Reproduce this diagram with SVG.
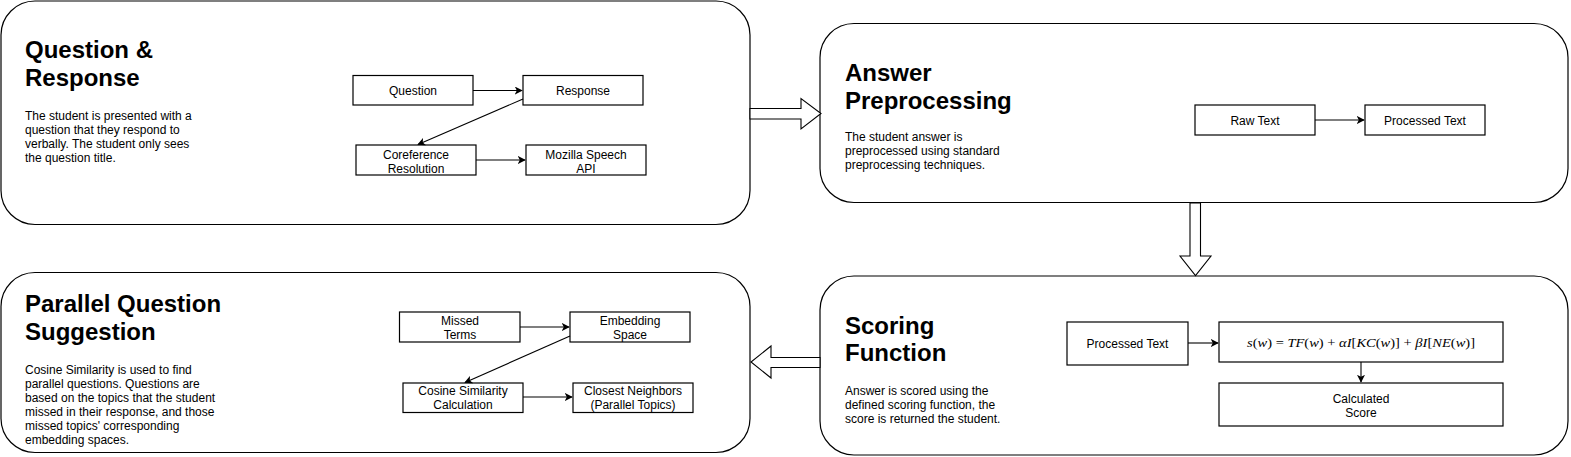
<svg xmlns="http://www.w3.org/2000/svg" width="1571" height="457" viewBox="0 0 1571 457">
<defs>
<marker id="arr" viewBox="0 0 10 10" refX="9" refY="5" markerWidth="8" markerHeight="8" markerUnits="userSpaceOnUse" orient="auto">
<path d="M0,0 L10,5 L0,10 L2.5,5 z" fill="#000"/>
</marker>
<style>
.panel{fill:#fff;stroke:#000;stroke-width:1.2}
.box{fill:#fff;stroke:#000;stroke-width:1.2}
.title{font-family:"Liberation Sans",Arial,Helvetica,sans-serif;font-size:24px;font-weight:bold;fill:#000}
.desc{font-family:"Liberation Sans",Arial,Helvetica,sans-serif;font-size:12px;fill:#000}
.lbl{font-family:"Liberation Sans",Arial,Helvetica,sans-serif;font-size:12px;fill:#000;text-anchor:middle}
.math{font-family:"Liberation Serif","Times New Roman",serif;font-size:13.5px;fill:#000;text-anchor:middle}
.it{font-style:italic}
.conn{stroke:#000;stroke-width:1.1;fill:none}
.block{fill:#fff;stroke:#000;stroke-width:1.1}
</style>
</defs>
<rect width="1571" height="457" fill="#fff"/>

<g id="panel-question-response">
<rect class="panel" x="1" y="1" width="749" height="223.5" rx="34" ry="34"/>
<text class="title" x="25" y="58">Question &amp;</text>
<text class="title" x="25" y="86">Response</text>
<text class="desc" x="25" y="120">The student is presented with a</text>
<text class="desc" x="25" y="134">question that they respond to</text>
<text class="desc" x="25" y="148">verbally. The student only sees</text>
<text class="desc" x="25" y="162">the question title.</text>
</g>
<g id="node-question"><rect class="box" x="353" y="75.5" width="120" height="29.5"/><text class="lbl" x="413" y="94.5">Question</text></g>
<g id="node-response"><rect class="box" x="523" y="75.5" width="120" height="29.5"/><text class="lbl" x="583" y="94.5">Response</text></g>
<g id="node-coreference"><rect class="box" x="356" y="145" width="120" height="30"/><text class="lbl" x="416" y="158.5">Coreference</text><text class="lbl" x="416" y="172.5">Resolution</text></g>
<g id="node-mozilla"><rect class="box" x="526" y="145" width="120" height="30"/><text class="lbl" x="586" y="158.5">Mozilla Speech</text><text class="lbl" x="586" y="172.5">API</text></g>

<g id="panel-answer-preprocessing">
<rect class="panel" x="820" y="23.5" width="748" height="179" rx="34" ry="34"/>
<text class="title" x="845" y="81">Answer</text>
<text class="title" x="845" y="109">Preprocessing</text>
<text class="desc" x="845" y="141">The student answer is</text>
<text class="desc" x="845" y="155">preprocessed using standard</text>
<text class="desc" x="845" y="169">preprocessing techniques.</text>
</g>
<g id="node-raw-text"><rect class="box" x="1195" y="105" width="120" height="30"/><text class="lbl" x="1255" y="124.5">Raw Text</text></g>
<g id="node-processed-text-1"><rect class="box" x="1365" y="105" width="120" height="30"/><text class="lbl" x="1425" y="124.5">Processed Text</text></g>

<g id="panel-scoring-function">
<rect class="panel" x="820" y="276" width="748" height="179" rx="34" ry="34"/>
<text class="title" x="845" y="333.5">Scoring</text>
<text class="title" x="845" y="361">Function</text>
<text class="desc" x="845" y="395">Answer is scored using the</text>
<text class="desc" x="845" y="409">defined scoring function, the</text>
<text class="desc" x="845" y="423">score is returned the student.</text>
</g>
<g id="node-processed-text-2"><rect class="box" x="1067" y="322" width="121" height="43"/><text class="lbl" x="1127.5" y="348">Processed Text</text></g>
<g id="node-formula"><rect class="box" x="1219" y="322" width="284" height="40"/>
<text class="math" x="1361" y="346.5" textLength="228" lengthAdjust="spacingAndGlyphs"><tspan class="it">s</tspan>(<tspan class="it">w</tspan>) = <tspan class="it">TF</tspan>(<tspan class="it">w</tspan>) + <tspan class="it">αI</tspan>[<tspan class="it">KC</tspan>(<tspan class="it">w</tspan>)] + <tspan class="it">βI</tspan>[<tspan class="it">NE</tspan>(<tspan class="it">w</tspan>)]</text></g>
<g id="node-calculated-score"><rect class="box" x="1219" y="383" width="284" height="43"/><text class="lbl" x="1361" y="403">Calculated</text><text class="lbl" x="1361" y="417">Score</text></g>

<g id="panel-parallel-question">
<rect class="panel" x="1" y="272.5" width="749" height="180" rx="34" ry="34"/>
<text class="title" x="25" y="312">Parallel Question</text>
<text class="title" x="25" y="340">Suggestion</text>
<text class="desc" x="25" y="374">Cosine Similarity is used to find</text>
<text class="desc" x="25" y="388">parallel questions. Questions are</text>
<text class="desc" x="25" y="402">based on the topics that the student</text>
<text class="desc" x="25" y="416">missed in their response, and those</text>
<text class="desc" x="25" y="430">missed topics' corresponding</text>
<text class="desc" x="25" y="444">embedding spaces.</text>
</g>
<g id="node-missed-terms"><rect class="box" x="399.5" y="312" width="120.5" height="30"/><text class="lbl" x="460" y="325">Missed</text><text class="lbl" x="460" y="338.5">Terms</text></g>
<g id="node-embedding-space"><rect class="box" x="570" y="312" width="120" height="30"/><text class="lbl" x="630" y="325">Embedding</text><text class="lbl" x="630" y="338.5">Space</text></g>
<g id="node-cosine"><rect class="box" x="403" y="383" width="120" height="29.5"/><text class="lbl" x="463" y="395">Cosine Similarity</text><text class="lbl" x="463" y="408.5">Calculation</text></g>
<g id="node-closest"><rect class="box" x="573" y="383" width="120" height="29.5"/><text class="lbl" x="633" y="395">Closest Neighbors</text><text class="lbl" x="633" y="408.5">(Parallel Topics)</text></g>

<g id="connectors">
<line class="conn" x1="473" y1="90.5" x2="522" y2="90.5" marker-end="url(#arr)"/>
<line class="conn" x1="523" y1="99" x2="418" y2="144.5" marker-end="url(#arr)"/>
<line class="conn" x1="476" y1="160" x2="525" y2="160" marker-end="url(#arr)"/>
<line class="conn" x1="1315" y1="120" x2="1364" y2="120" marker-end="url(#arr)"/>
<line class="conn" x1="1188" y1="343" x2="1218" y2="343" marker-end="url(#arr)"/>
<line class="conn" x1="1361" y1="362" x2="1361" y2="382" marker-end="url(#arr)"/>
<line class="conn" x1="520" y1="327" x2="569" y2="327" marker-end="url(#arr)"/>
<line class="conn" x1="570" y1="336" x2="465" y2="382.5" marker-end="url(#arr)"/>
<line class="conn" x1="523" y1="397" x2="572" y2="397" marker-end="url(#arr)"/>
<polygon class="block" points="750,108.5 801,108.5 801,98.5 821,113.5 801,129 801,119 750,119"/>
<polygon class="block" points="1190,203 1200.5,203 1200.5,256 1211,256 1195.5,275.5 1180,256 1190,256"/>
<polygon class="block" points="820,357.5 771,357.5 771,346 751,362 771,378 771,367.5 820,367.5"/>
</g>
</svg>
